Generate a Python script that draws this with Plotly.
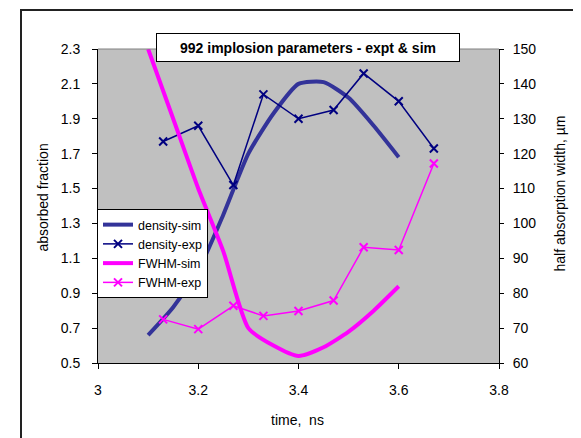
import plotly.graph_objects as go

# ---- data ----
sim_time = [3.10, 3.15, 3.20, 3.25, 3.30, 3.35, 3.40, 3.45, 3.50, 3.55, 3.60]
density_sim = [0.66, 0.82, 1.03, 1.35, 1.70, 1.93, 2.10, 2.11, 2.02, 1.86, 1.68]
fwhm_sim = [150, 130, 110, 92, 70, 65, 62, 64.5, 69, 75, 82]

exp_time = [3.13, 3.20, 3.27, 3.33, 3.40, 3.47, 3.53, 3.60, 3.67]
density_exp = [1.77, 1.86, 1.52, 2.04, 1.90, 1.95, 2.16, 2.00, 1.73]
fwhm_exp = [72.5, 69.7, 76.4, 73.5, 74.9, 77.9, 93.2, 92.4, 117.2]

x_ticks = [3.0, 3.2, 3.4, 3.6, 3.8]
x_ticklabels = ["3", "3.2", "3.4", "3.6", "3.8"]
left_ticks = [0.5, 0.7, 0.9, 1.1, 1.3, 1.5, 1.7, 1.9, 2.1, 2.3]
right_ticks = [60, 70, 80, 90, 100, 110, 120, 130, 140, 150]

FONT = "Liberation Sans, Arial, sans-serif"
NAVY_SIM = "#333399"
NAVY_EXP = "#000080"
MAGENTA = "#FF00FF"

fig = go.Figure()
fig.add_trace(go.Scatter(x=sim_time, y=density_sim, name="density-sim", mode="lines",
                         line=dict(color=NAVY_SIM, width=4, shape="spline", smoothing=0.6),
                         yaxis="y"))
fig.add_trace(go.Scatter(x=exp_time, y=density_exp, name="density-exp", mode="lines+markers",
                         line=dict(color=NAVY_EXP, width=1.5),
                         marker=dict(symbol="x-thin", size=8, line=dict(color=NAVY_EXP, width=2)),
                         yaxis="y"))
fig.add_trace(go.Scatter(x=sim_time, y=fwhm_sim, name="FWHM-sim", mode="lines",
                         line=dict(color=MAGENTA, width=4, shape="spline", smoothing=0.6),
                         yaxis="y2"))
fig.add_trace(go.Scatter(x=exp_time, y=fwhm_exp, name="FWHM-exp", mode="lines+markers",
                         line=dict(color=MAGENTA, width=1.5),
                         marker=dict(symbol="x-thin", size=8, line=dict(color=MAGENTA, width=2)),
                         yaxis="y2"))

# page body has an 8px margin: work in window pixels, shift into figure pixels
OFF = 8
W, H = 581, 438
L, T = 98 - OFF, 49 - OFF
pw, ph = 401, 314
R, B = W - L - pw, H - T - ph

def px(x):
    return (x - OFF - L) / pw

def py(y):
    return (T + ph - (y - OFF)) / ph

fig.update_layout(
    width=W, height=H,
    margin=dict(l=L, r=R, t=T, b=B, pad=0),
    paper_bgcolor="white",
    plot_bgcolor="#C0C0C0",
    font=dict(family=FONT, size=13, color="black"),
    showlegend=True,
    legend=dict(x=px(97), y=py(209), xanchor="left", yanchor="top",
                bgcolor="white", bordercolor="black", borderwidth=1,
                font=dict(family=FONT, size=12.5, color="black"),
                itemwidth=30, tracegroupgap=0),
    xaxis=dict(range=[3.0, 3.8], tickvals=x_ticks, ticktext=x_ticklabels,
               showgrid=False, zeroline=False, showline=True, linecolor="black", linewidth=1,
               ticks="outside", ticklen=5, tickcolor="black", ticklabelstandoff=9,
               tickfont=dict(family=FONT, size=14)),
    yaxis=dict(range=[0.5, 2.3], tickvals=left_ticks, ticktext=[f"{v:.1f}" for v in left_ticks],
               showgrid=False, zeroline=False, showline=True, linecolor="black", linewidth=1,
               ticks="outside", ticklen=5, tickcolor="black", ticklabelstandoff=9,
               tickfont=dict(family=FONT, size=14)),
    yaxis2=dict(range=[60, 150], tickvals=right_ticks, overlaying="y", side="right",
                showgrid=False, zeroline=False, showline=True, linecolor="black", linewidth=1,
                ticks="outside", ticklen=4, tickcolor="black", ticklabelstandoff=6,
                tickfont=dict(family=FONT, size=14)),
    yaxis3=dict(range=[60, 150], tickvals=right_ticks, overlaying="y", side="right",
                showgrid=False, zeroline=False, showline=False, showticklabels=False,
                ticks="inside", ticklen=4, tickcolor="black"),
)

# plot-area top border (gray) and outer chart border
fig.add_shape(type="line", xref="paper", yref="paper", x0=0, x1=1, y0=1, y1=1,
              line=dict(color="#808080", width=1))
fig.add_shape(type="rect", xref="paper", yref="paper",
              x0=px(21), x1=px(578), y0=py(10), y1=py(450),
              line=dict(color="#222222", width=2), fillcolor="rgba(0,0,0,0)")

# title box
fig.add_annotation(text="<b>992 implosion parameters - expt & sim</b>",
                   xref="paper", yref="paper", x=px(307.5), y=py(48),
                   xanchor="center", yanchor="middle", showarrow=False,
                   font=dict(family=FONT, size=14, color="black"),
                   bgcolor="white", bordercolor="black", borderwidth=1,
                   width=296, height=21, borderpad=3)

# axis titles
fig.add_annotation(text="time,  ns", xref="paper", yref="paper", x=px(297.5), y=py(420),
                   xanchor="center", yanchor="middle", showarrow=False,
                   font=dict(family=FONT, size=14, color="black"))
fig.add_annotation(text="absorbed fraction", xref="paper", yref="paper", x=px(43), y=py(197.5),
                   xanchor="center", yanchor="middle", showarrow=False, textangle=-90,
                   font=dict(family=FONT, size=14, color="black"))
fig.add_annotation(text="half absorption width, µm", xref="paper", yref="paper", x=px(560), y=py(193.5),
                   xanchor="center", yanchor="middle", showarrow=False, textangle=-90,
                   font=dict(family=FONT, size=14, color="black"))

fig.write_html("out.html")
